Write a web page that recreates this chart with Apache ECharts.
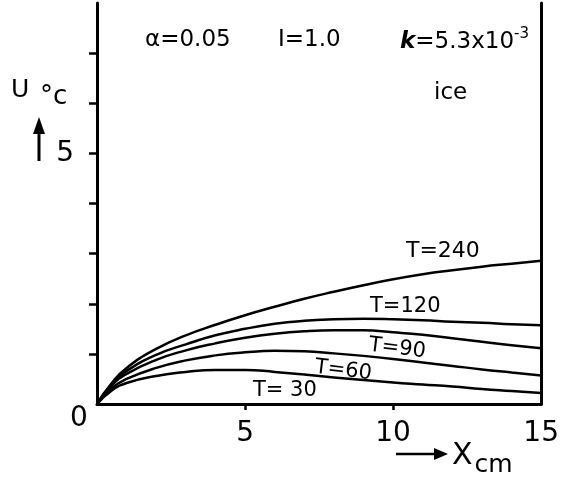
<!DOCTYPE html>
<html><head><meta charset="utf-8">
<script src="https://cdn.jsdelivr.net/npm/echarts@6/dist/echarts.min.js"></script>
<style>html,body{margin:0;padding:0;background:#fff}#c{width:562px;height:480px}</style>
</head><body><div id="c"></div>
<script>
const xValues = [0,0.5,1,2,3,4,5,6,7,8,9,10,11,12,13,14,15];
const seriesNames = ['T=240','T=120','T=90','T=60','T=30'];
const t240 = [0,0.42,0.72,1.1,1.37,1.58,1.77,1.94,2.1,2.24,2.37,2.49,2.59,2.67,2.74,2.8,2.86];
const t120 = [0,0.4,0.66,0.98,1.19,1.37,1.5,1.6,1.66,1.69,1.7,1.69,1.67,1.64,1.62,1.59,1.57];
const t90  = [0,0.37,0.6,0.88,1.07,1.21,1.32,1.4,1.45,1.47,1.47,1.43,1.38,1.31,1.24,1.17,1.11];
const t60  = [0,0.32,0.5,0.72,0.87,0.97,1.03,1.06,1.05,1.01,0.96,0.9,0.83,0.76,0.69,0.63,0.57];
const t30  = [0,0.27,0.42,0.56,0.64,0.68,0.68,0.64,0.59,0.53,0.48,0.43,0.39,0.35,0.3,0.26,0.22];
const xTickLabels = ['5','10','15'];
const xTickValues = [5,10];
const yTickLabels = ['5'];
const yTickValues = [1,2,3,4,5,6,7];

const allSeries = [t240,t120,t90,t60,t30];
const FONT = 'DejaVu Sans';
const chart = echarts.init(document.getElementById('c'));
const pair = arr => arr.map((v,i)=>[xValues[i], v]);
const txt = (text, x, y, size, extra) => Object.assign({
  type:'text', x, y,
  style:{text, font: size+'px "'+FONT+'"', fill:'#000', textAlign:'left', textVerticalAlign:'middle'}
}, extra||{});

chart.setOption({
  animation:false,
  backgroundColor:'#fff',
  grid:{left:97, right:19, top:3, bottom:76},
  xAxis:{type:'value', min:0, max:15, interval:5,
    axisLine:{show:true, lineStyle:{color:'#000', width:3}},
    axisTick:{show:true, length:6, customValues:xTickValues, lineStyle:{color:'#000', width:2.5}},
    splitLine:{show:false},
    axisLabel:{color:'#000', fontSize:28, fontFamily:FONT, margin:16,
      formatter:v=> xTickLabels.includes(String(v)) ? String(v) : ''}
  },
  yAxis:[{type:'value', min:0, max:8, interval:1,
    axisLine:{show:true, lineStyle:{color:'#000', width:3}},
    axisTick:{show:true, length:8, customValues:yTickValues, lineStyle:{color:'#000', width:2.5}},
    splitLine:{show:false},
    axisLabel:{color:'#000', fontSize:28, fontFamily:FONT, margin:23,
      formatter:v=> yTickLabels.includes(String(v)) ? String(v) : ''}
  },{type:'value', min:0, max:8, interval:1, position:'right',
    axisLine:{show:true, lineStyle:{color:'#000', width:3}},
    axisTick:{show:false}, axisLabel:{show:false}, splitLine:{show:false}
  }],
  series: allSeries.map((arr,i)=>({
    name:seriesNames[i], type:'line', smooth:true, showSymbol:false,
    data:pair(arr), lineStyle:{color:'#000', width:2.5}, itemStyle:{color:'#000'}
  })),
  graphic:[
    txt('0', 70, 419, 28),
    txt('α=0.05', 145, 40, 23),
    txt('I=1.0', 278, 40, 23),
    {type:'text', x:400, y:42, style:{text:'{i|k}{n|=5.3x10}{s|-3}', textVerticalAlign:'middle',
      rich:{i:{font:'italic bold 23px "'+FONT+'"', fill:'#000'}, n:{font:'23px "'+FONT+'"', fill:'#000'},
        s:{font:'15px "'+FONT+'"', fill:'#000', verticalAlign:'top', padding:[0,0,16,0]}}}},
    txt('ice', 434, 93, 23),
    txt('U', 11, 90, 25),
    txt('°c', 40, 97, 26),
    {type:'line', shape:{x1:39, y1:161, x2:39, y2:124}, style:{stroke:'#000', lineWidth:3}},
    {type:'polygon', shape:{points:[[39,117],[33,134],[45,134]]}, style:{fill:'#000'}},
    {type:'line', shape:{x1:396, y1:454, x2:440, y2:454}, style:{stroke:'#000', lineWidth:2.5}},
    {type:'polygon', shape:{points:[[448,454],[434,448],[434,460]]}, style:{fill:'#000'}},
    {type:'text', x:452, y:456, style:{text:'{x|X}{c|cm}', textVerticalAlign:'middle',
      rich:{x:{font:'30px "'+FONT+'"', fill:'#000'}, c:{font:'25px "'+FONT+'"', fill:'#000', padding:[18,0,0,2]}}}},
    txt('T=240', 406, 251, 22),
    txt('T=120', 370, 307, 21),
    txt('T=90', 369, 345, 21, {rotation:-0.12}),
    txt('T=60', 315, 367, 21, {rotation:-0.12}),
    txt('T= 30', 253, 391, 21)
  ]
});
</script></body></html>
